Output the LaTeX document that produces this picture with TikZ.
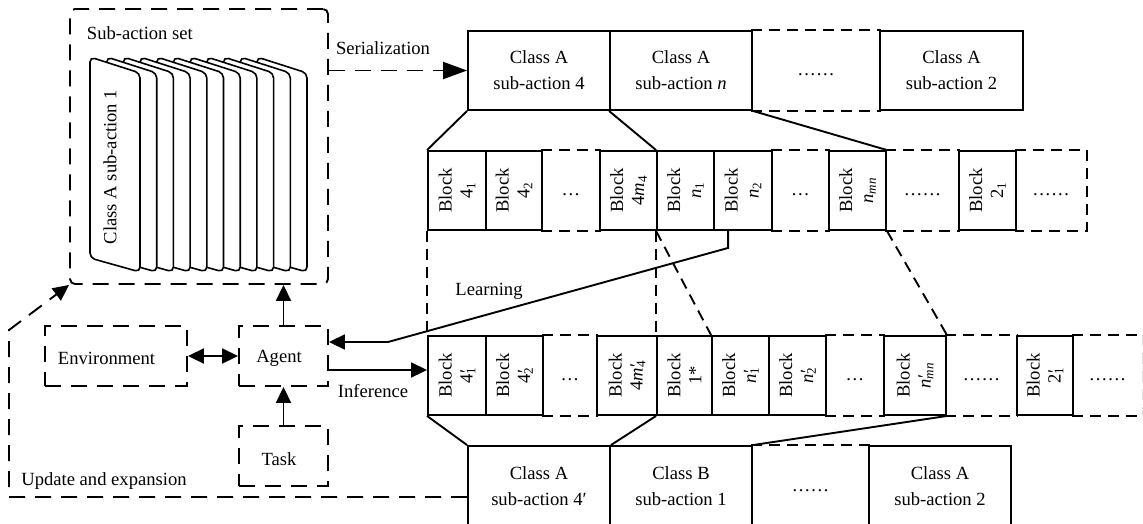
\documentclass[tikz,border=0pt]{standalone}
\usepackage{fontspec}
\setmainfont{Liberation Serif}
\usetikzlibrary{arrows.meta}
% base with a prime stacked over its subscript
\newcommand{\pr}[2]{#1\rlap{\kern0.5pt′}\textsubscript{#2}}
\tikzset{
  txt/.style={font=\fontsize{18.6}{26}\selectfont},
  bigdash/.style={dash pattern=on 16pt off 10pt},
  smalldash/.style={dash pattern=on 11pt off 7pt},
  cbox/.style={draw, txt, align=center, inner sep=0pt, minimum height=79pt},
  cell/.style={draw, inner sep=0pt, minimum height=79pt},
  gap/.style={txt, inner sep=0pt, minimum height=79pt},
  blk/.style={rotate=90, align=center, inner sep=0pt, font=\fontsize{18.6}{21}\selectfont},
  dbox/.style={draw, bigdash, inner sep=0pt, minimum height=60pt},
  lbl/.style={txt, inner sep=0pt},
  tip/.style={-{Triangle[length=16pt,width=15pt]}},
}
\begin{document}
\begin{tikzpicture}[x=1pt, y=-1pt, line width=1.9pt]
\useasboundingbox (0,0) rectangle (1143,523);

% ---------- sub-action set ----------
\node[draw, bigdash, rounded corners=5pt, minimum width=258pt, minimum height=275pt, inner sep=0pt] (set) at (199,146.5) {};
\node[lbl, anchor=west] (setlbl) at (86,33) {Sub-action set};
\foreach \i in {10,9,...,0} {
  \draw[fill=white, line width=1.6pt, rounded corners=5pt]
    ({90+16.7*\i},57) -- ({140+16.7*\i},73) -- ({140+16.7*\i},272) -- ({90+16.7*\i},258) -- cycle;
}
\node[lbl, rotate=90] (cardtxt) at (110,167) {Class A sub-action 1};

% ---------- agent, environment, task ----------
\node[dbox, minimum width=142pt] (env) at (116,356) {};
\node[lbl] (envlbl) at (106.5,358) {Environment};
\node[dbox, minimum width=89pt] (agent) at (283.5,356) {};
\node[lbl] (agentlbl) at (279,358) {Agent};
\node[dbox, minimum width=89pt] (task) at (283.5,456) {};
\node[lbl] (tasklbl) at (279,459) {Task};

\draw[{Triangle[length=16pt,width=15pt]}-{Triangle[length=16pt,width=15pt]}] (env.east) -- (agent.west);
\draw[tip] (task.north) -- (agent.south);
\draw[tip] (agent.north) -- (agent.north |- set.south);

% ---------- serialized sub-actions ----------
\node[cbox, minimum width=142pt] (t1) at (539,70.5) {Class A\\sub-action 4};
\node[cbox, minimum width=142pt] (t2) at (681,70.5) {Class A\\sub-action \textit{n}};
\node[gap, minimum width=128pt] (t3) at (816,70.5) {\strut……};
\draw[smalldash] (t3.north west) -- (t3.north east) (t3.south west) -- (t3.south east);
\node[cbox, minimum width=143pt] (t4) at (951.5,70.5) {Class A\\sub-action 2};

\draw[bigdash, -{Triangle[length=24pt,width=17pt]}] (set.east |- t1.west) -- (t1.west);
\node[lbl] (serlbl) at (383,48) {Serialization};

% ---------- blocks ----------
\node[cell, minimum width=58pt] (a1) at (457,190.5) {};
\node[blk] (a1t) at (a1) {Block\\4\textsubscript{1}};
\node[cell, minimum width=56pt] (a2) at (514,190.5) {};
\node[blk] (a2t) at (a2) {Block\\4\textsubscript{2}};
\node[gap, minimum width=58pt] (a3) at (571,190.5) {\strut…};
\draw[smalldash] (a3.north west) -- (a3.north east) (a3.south west) -- (a3.south east);
\node[cell, minimum width=57pt] (a4) at (628.5,190.5) {};
\node[blk] (a4t) at (a4) {Block\\4\textit{m}\textsubscript{4}};
\node[cell, minimum width=57pt] (a5) at (685.5,190.5) {};
\node[blk] (a5t) at (a5) {Block\\\textit{n}\textsubscript{1}};
\node[cell, minimum width=58pt] (a6) at (743,190.5) {};
\node[blk] (a6t) at (a6) {Block\\\textit{n}\textsubscript{2}};
\node[gap, minimum width=57pt] (a7) at (800.5,190.5) {\strut…};
\draw[smalldash] (a7.north west) -- (a7.north east) (a7.south west) -- (a7.south east);
\node[cell, minimum width=57pt] (a8) at (857.5,190.5) {};
\node[blk] (a8t) at (a8) {Block\\\textit{n}\textsubscript{\textit{mn}}};
\node[gap, minimum width=73pt] (a9) at (922.5,190.5) {\strut……};
\draw[smalldash] (a9.north west) -- (a9.north east) (a9.south west) -- (a9.south east);
\node[cell, minimum width=57pt] (a10) at (987.5,190.5) {};
\node[blk] (a10t) at (a10) {Block\\2\textsubscript{1}};
\node[gap, minimum width=70pt] (a11) at (1051,190.5) {\strut……};
\draw[smalldash] (a11.north west) -- (a11.north east) -- (a11.south east) -- (a11.south west);

% ---------- blocks after inference ----------
\node[cell, minimum width=58pt] (b1) at (457,375.5) {};
\node[blk] (b1t) at (b1) {Block\\\pr{4}{1}};
\node[cell, minimum width=57pt] (b2) at (514.5,375.5) {};
\node[blk] (b2t) at (b2) {Block\\\pr{4}{2}};
\node[gap, minimum width=54pt] (b3) at (570,375.5) {\strut…};
\draw[smalldash] (b3.north west) -- (b3.north east) (b3.south west) -- (b3.south east);
\node[cell, minimum width=60pt] (b4) at (627,375.5) {};
\node[blk] (b4t) at (b4) {Block\\4\pr{\textit{m}}{4}};
\node[cell, minimum width=55pt] (b5) at (684.5,375.5) {};
\node[blk] (b5t) at (b5) {Block\\1*};
\node[cell, minimum width=57pt] (b6) at (740.5,375.5) {};
\node[blk] (b6t) at (b6) {Block\\\pr{\textit{n}}{1}};
\node[cell, minimum width=57pt] (b7) at (797.5,375.5) {};
\node[blk] (b7t) at (b7) {Block\\\pr{\textit{n}}{2}};
\node[gap, minimum width=58pt] (b8) at (855,375.5) {\strut…};
\draw[smalldash] (b8.north west) -- (b8.north east) (b8.south west) -- (b8.south east);
\node[cell, minimum width=62pt] (b9) at (915,375.5) {};
\node[blk] (b9t) at (b9) {Block\\\pr{\textit{n}}{\textit{mn}}};
\node[gap, minimum width=71pt] (b10) at (981.5,375.5) {\strut……};
\draw[smalldash] (b10.north west) -- (b10.north east) (b10.south west) -- (b10.south east);
\node[cell, minimum width=56pt] (b11) at (1045,375.5) {};
\node[blk] (b11t) at (b11) {Block\\\pr{2}{1}};
\node[gap, minimum width=69pt] (b12) at (1107.5,375.5) {\strut……};
\draw[smalldash] (b12.north west) -- (b12.north east) (b12.south west) -- (b12.south east);
\draw[smalldash, gray!25, line width=1pt] (b12.north east) -- (b12.south east);

% ---------- updated sub-actions ----------
\begin{scope}
\clip (0,0) rectangle (1143,523);
\node[cbox, minimum width=142pt, minimum height=80pt] (c1) at (539,486) {Class A\\sub-action 4′};
\node[cbox, minimum width=142pt, minimum height=80pt] (c2) at (681,486) {Class B\\sub-action 1};
\node[gap, minimum width=117pt, minimum height=80pt] (c3) at (810.5,486) {\strut……};
\draw[smalldash] (c3.north west) -- (c3.north east);
\node[cbox, minimum width=142pt, minimum height=80pt] (c4) at (940,486) {Class A\\sub-action 2};
\end{scope}

% ---------- expansion lines ----------
\draw (t1.south west) -- (a1.north west);
\draw (t2.south west) -- (a5.north west);
\draw (t2.south east) -- (a8.north east);

\draw[smalldash] (a1.south west) -- (b1.north west);
\draw[smalldash] (a5.south west) -- (b5.north west);
\draw[smalldash] (a5.south west) -- (b6.north west);
\draw[smalldash] (a8.south east) -- (b9.north east);

\draw (b1.south west) -- (c1.north west);
\draw (b5.south west) -- (c1.north east);
\draw (b9.south east) -- (c2.north east);

% ---------- learning and inference ----------
\coordinate (lrnA) at ([xshift=15pt]a6.south west);
\coordinate (lrnB) at ([yshift=-17pt]lrnA);
\coordinate (lrnC) at ([yshift=14pt]agent.east);
\draw[tip] (lrnA) -- (lrnB) -- (388,342) -- (lrnC);
\node[lbl] (lrnlbl) at (489,291) {Learning};

\coordinate (infA) at ([yshift=-14pt]agent.east);
\draw[tip] (infA) -- (infA -| b1.west);
\node[lbl] (inflbl) at (373,391) {Inference};

% ---------- update and expansion ----------
\draw[bigdash, tip] (c1.west |- 0,497) -- (9,497) -- (9,330) -- (set.south west);
\node[lbl] (updlbl) at (104,481) {Update and expansion};
\end{tikzpicture}
\end{document}
